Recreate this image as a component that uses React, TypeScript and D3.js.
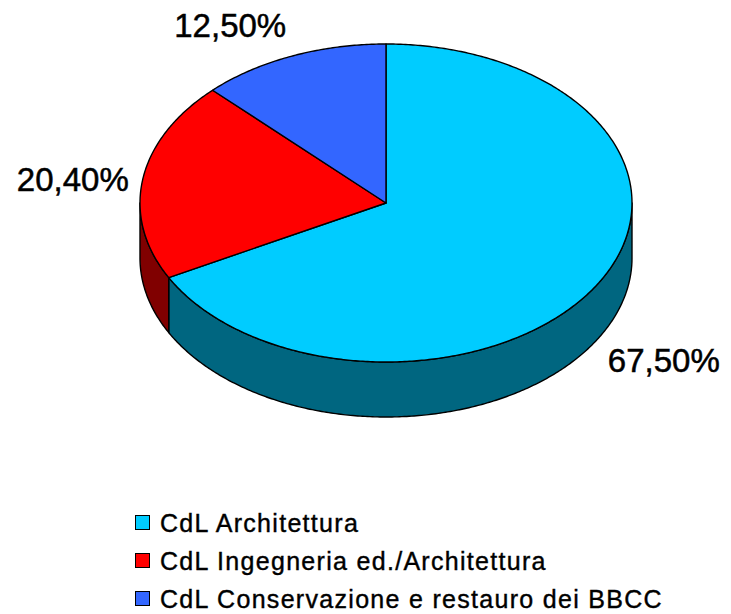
import React from 'react';
import * as d3 from 'd3';

// chart data
const categories = [
  'CdL Architettura',
  'CdL Ingegneria ed./Architettura',
  'CdL Conservazione e restauro dei BBCC',
];
const values = [67.5, 20.4, 12.5];
const labels = ['67,50%', '20,40%', '12,50%'];

// colours (top face, side wall)
const topColors = ['#00CCFF', '#FF0000', '#3366FF'];
const sideColors = ['#006680', '#800000', '#1A3380'];

const width = 731;
const height = 614;
const cx = 386;
const cy = 203;
const rx = 246;
const ry = 159;
const depth = 55;

// label nudges relative to the slice mid point on the rim
const labelOffsets: [number, number, string][] = [
  [11, 76, 'start'],
  [-14, 0, 'end'],
  [-6, -31, 'end'],
];

const pt = (a: number, dy = 0): [number, number] => [
  cx + rx * Math.sin(a),
  cy - ry * Math.cos(a) + dy,
];

const rimPoints = (a0: number, a1: number, dy = 0) => {
  const n = Math.max(2, Math.ceil(Math.abs(a1 - a0) / 0.01));
  return d3.range(n + 1).map((i) => pt(a0 + ((a1 - a0) * i) / n, dy));
};

const line = d3.line();
const font = "'Liberation Sans', Arial, sans-serif";

export default function App() {
  const pie = d3.pie<number>().sort(null)(values);

  const sides = pie
    .map((s, i) => {
      const a0 = Math.max(s.startAngle, Math.PI / 2);
      const a1 = Math.min(s.endAngle, (3 * Math.PI) / 2);
      if (a1 <= a0) return null;
      const top = rimPoints(a0, a1);
      const bottom = rimPoints(a1, a0, depth);
      return { d: line([...top, ...bottom])! + 'Z', fill: sideColors[i] };
    })
    .filter(Boolean) as { d: string; fill: string }[];

  const tops = pie.map((s, i) => ({
    d: line([[cx, cy], ...rimPoints(s.startAngle, s.endAngle)])! + 'Z',
    fill: topColors[i],
  }));

  const legendY = d3.scaleBand<number>().domain(d3.range(categories.length)).range([504, 618]);

  return (
    <svg width={width} height={height} style={{ position: 'absolute', left: 0, top: 0 }}>
      <rect width={width} height={height} fill="#fff" />
      {sides.map((s, i) => (
        <path key={'s' + i} d={s.d} fill={s.fill} stroke="#000" strokeWidth={1.4} strokeLinejoin="round" />
      ))}
      {tops.map((t, i) => (
        <path key={'t' + i} d={t.d} fill={t.fill} stroke="#000" strokeWidth={1.4} strokeLinejoin="round" />
      ))}
      {pie.map((s, i) => {
        const [x, y] = pt((s.startAngle + s.endAngle) / 2);
        const [dx, dy, anchor] = labelOffsets[i];
        return (
          <text
            key={'l' + i}
            x={x + dx}
            y={y + dy}
            textAnchor={anchor as any}
            dominantBaseline="central"
            fontFamily={font}
            fontSize={33}
            fill="#000"
            stroke="#000"
            strokeWidth={0.5}
          >
            {labels[i]}
          </text>
        );
      })}
      {categories.map((c, i) => {
        const y = legendY(i)! + legendY.bandwidth() / 2;
        return (
          <g key={'g' + i}>
            <rect x={135.5} y={y - 7.5} width={14} height={14} fill={topColors[i]} stroke="#000" strokeWidth={1} />
            <text
              x={160}
              y={y}
              dominantBaseline="central"
              fontFamily={font}
              fontSize={25}
              letterSpacing={1.3}
              fill="#000"
              stroke="#000"
              strokeWidth={0.4}
            >
              {c}
            </text>
          </g>
        );
      })}
    </svg>
  );
}
